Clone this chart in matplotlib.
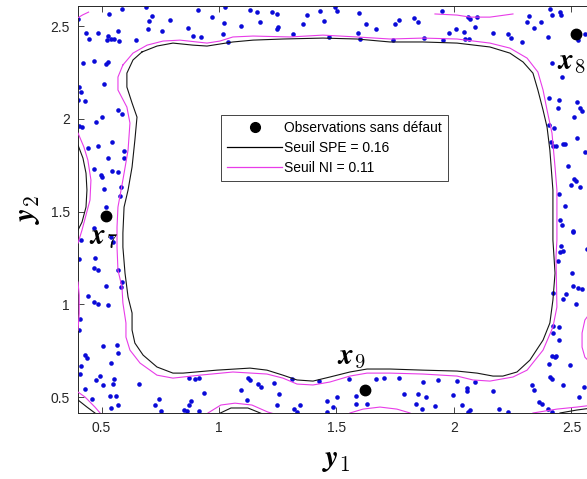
import matplotlib
matplotlib.use("Agg")
import matplotlib.pyplot as plt
from matplotlib.lines import Line2D
import numpy as np

plt.rcParams["font.family"] = ["Liberation Sans", "DejaVu Sans"]
plt.rcParams["mathtext.fontset"] = "cm"

# fault-free observations (y1, y2)
obs_top = [
    (0.400, 2.538), (0.532, 2.565), (0.587, 2.591), (0.691, 2.604), (0.911, 2.588), (1.024, 2.600),
    (1.133, 2.586), (1.162, 2.577), (1.224, 2.577), (1.248, 2.563), (1.373, 2.561), (1.428, 2.582),
    (0.715, 2.556), (0.702, 2.529), (0.790, 2.532), (0.969, 2.548), (1.020, 2.514), (1.095, 2.502),
    (1.173, 2.520), (1.252, 2.496), (1.248, 2.482), (1.359, 2.511), (1.447, 2.525), (0.434, 2.464),
    (0.447, 2.428), (0.487, 2.464), (0.528, 2.446), (0.542, 2.430), (0.552, 2.432), (0.525, 2.423),
    (0.573, 2.419), (0.572, 2.475), (0.648, 2.423), (0.698, 2.484), (0.757, 2.473), (0.870, 2.489),
    (0.891, 2.446), (0.923, 2.439), (1.018, 2.455), (1.313, 2.459), (1.038, 2.414), (1.467, 2.439),
    (1.503, 2.581), (1.492, 2.604), (1.597, 2.568), (1.624, 2.511), (1.668, 2.482), (1.749, 2.511),
    (1.767, 2.532), (1.831, 2.541), (1.845, 2.520), (1.947, 2.582), (2.059, 2.547), (2.068, 2.536),
    (2.096, 2.547), (2.090, 2.496), (2.008, 2.484), (1.980, 2.464), (2.041, 2.466), (2.048, 2.428),
    (2.065, 2.428), (2.167, 2.460), (2.229, 2.455), (2.242, 2.437), (2.288, 2.412), (2.319, 2.556),
    (2.309, 2.520), (2.340, 2.489), (2.370, 2.521), (2.408, 2.590), (2.419, 2.559), (2.451, 2.577),
    (2.454, 2.559), (2.402, 2.439), (2.527, 2.424), (2.557, 2.455), (1.590, 2.464), (1.600, 2.430),
    (1.739, 2.424), (1.873, 2.433), (1.954, 2.424),
]
obs_right = [
    (2.417, 2.302), (2.460, 2.223), (2.406, 2.110), (2.448, 2.101), (2.441, 2.056), (2.522, 2.092),
    (2.536, 2.056), (2.543, 2.043), (2.512, 2.011), (2.406, 1.966), (2.427, 1.948), (2.522, 1.899),
    (2.411, 1.876), (2.420, 1.853), (2.434, 1.853), (2.463, 1.862), (2.473, 1.863), (2.559, 1.822),
    (2.487, 1.745), (2.512, 1.678), (2.518, 1.666), (2.498, 1.642), (2.536, 1.633), (2.448, 1.594),
    (2.473, 1.531), (2.451, 1.454), (2.458, 1.427), (2.508, 1.396), (2.505, 1.387), (2.565, 1.296),
    (2.454, 1.315), (2.463, 1.288), (2.451, 1.281), (2.441, 1.233), (2.501, 1.170), (2.505, 1.098),
    (2.526, 1.089), (2.543, 1.085), (2.477, 1.058), (2.465, 1.031), (2.519, 1.004), (2.423, 1.062),
    (2.423, 0.882), (2.448, 0.879), (2.420, 0.843), (2.448, 0.807), (2.416, 0.721), (2.434, 0.721),
]
obs_bottom = [
    (0.414, 0.667), (0.542, 0.686), (0.410, 0.622), (0.478, 0.591), (0.494, 0.615), (0.508, 0.564),
    (0.552, 0.597), (0.549, 0.568), (0.431, 0.546), (0.460, 0.489), (0.538, 0.507), (0.562, 0.507),
    (0.542, 0.442), (0.569, 0.456), (0.661, 0.568), (0.743, 0.489), (0.726, 0.456), (0.753, 0.426),
    (0.851, 0.430), (0.865, 0.426), (0.872, 0.456), (0.879, 0.480), (0.913, 0.424), (0.936, 0.523),
    (0.872, 0.600), (0.896, 0.597), (0.913, 0.600), (1.092, 0.536), (1.125, 0.604), (1.133, 0.591),
    (1.165, 0.568), (1.179, 0.553), (1.121, 0.482), (1.233, 0.577), (1.254, 0.519), (1.247, 0.456),
    (1.312, 0.595), (1.424, 0.584), (1.318, 0.433), (1.333, 0.420), (1.346, 0.456), (1.461, 0.478),
    (1.461, 0.420), (1.553, 0.595), (1.666, 0.597), (1.703, 0.604), (1.766, 0.600), (1.869, 0.579),
    (1.933, 0.593), (2.012, 0.586), (2.090, 0.582), (2.056, 0.550), (2.054, 0.532), (2.167, 0.532),
    (2.334, 0.564), (2.340, 0.539), (1.503, 0.501), (1.583, 0.507), (1.583, 0.465), (1.631, 0.465),
    (1.787, 0.514), (1.848, 0.516), (1.879, 0.501), (1.838, 0.465), (1.862, 0.438), (1.920, 0.453),
    (1.997, 0.510), (2.032, 0.456), (2.066, 0.430), (2.058, 0.421), (2.191, 0.438), (2.229, 0.420),
    (2.363, 0.474), (2.374, 0.465), (2.402, 0.433), (2.419, 0.420), (2.530, 0.501), (2.553, 0.552),
    (2.405, 0.676), (2.408, 0.607), (2.419, 0.597), (2.493, 0.672), (2.465, 0.564), (2.431, 0.717),
    (1.486, 0.447),
]
obs_left = [
    (0.422, 2.302), (0.469, 2.313), (0.519, 2.295), (0.526, 2.307), (0.405, 2.172), (0.413, 2.145),
    (0.401, 2.101), (0.430, 2.095), (0.512, 2.190), (0.571, 2.050), (0.586, 2.025), (0.500, 2.011),
    (0.476, 1.984), (0.405, 1.960), (0.415, 1.957), (0.441, 1.844), (0.483, 1.853), (0.543, 1.876),
    (0.529, 1.791), (0.597, 1.827), (0.597, 1.786), (0.498, 1.696), (0.500, 1.687), (0.469, 1.727),
    (0.543, 1.720), (0.569, 1.714), (0.512, 1.624), (0.583, 1.633), (0.517, 1.526), (0.578, 1.583),
    (0.469, 1.409), (0.540, 1.364), (0.550, 1.337), (0.413, 1.349), (0.405, 1.242), (0.472, 1.247),
    (0.469, 1.193), (0.486, 1.184), (0.571, 1.184), (0.444, 1.044), (0.468, 1.013), (0.483, 0.999),
    (0.526, 0.995), (0.518, 1.098), (0.586, 1.121), (0.583, 1.091), (0.408, 0.918), (0.405, 0.861),
    (0.505, 0.774), (0.564, 0.780), (0.569, 0.735), (0.430, 0.726), (0.437, 0.713),
]

# faulty observations x7, x8, x9
fault_names = ["7", "8", "9"]
fault_y1 = [0.521, 2.519, 1.622]
fault_y2 = [1.474, 2.458, 0.538]
label_y1 = [0.508, 2.500, 1.565]
label_y2 = [1.362, 2.306, 0.715]

# SPE threshold contour (0.16)
spe_y1 = [0.672, 0.736, 0.804, 0.889, 0.949, 1.004, 1.059, 1.145, 1.272, 1.442, 1.587, 1.728, 1.868,
          2.013, 2.153, 2.238, 2.294, 2.336, 2.357, 2.379, 2.396, 2.408, 2.421, 2.421, 2.430, 2.421,
          2.408, 2.379, 2.323, 2.268, 2.208, 2.166, 2.098, 2.013, 1.868, 1.728, 1.630, 1.557, 1.472,
          1.400, 1.332, 1.272, 1.204, 1.132, 0.991, 0.847, 0.804, 0.736, 0.677, 0.642, 0.630, 0.630,
          0.613, 0.600, 0.591, 0.591, 0.596, 0.613, 0.630, 0.642, 0.651, 0.630, 0.608, 0.608, 0.634,
          0.672]
spe_y2 = [2.360, 2.392, 2.408, 2.397, 2.392, 2.403, 2.414, 2.424, 2.430, 2.435, 2.430, 2.414, 2.414,
          2.408, 2.387, 2.354, 2.306, 2.246, 2.155, 2.047, 1.955, 1.831, 1.616, 1.346, 1.168, 1.023,
          0.899, 0.807, 0.699, 0.635, 0.613, 0.613, 0.629, 0.640, 0.645, 0.651, 0.651, 0.635, 0.608,
          0.586, 0.592, 0.618, 0.645, 0.656, 0.645, 0.629, 0.629, 0.662, 0.726, 0.791, 0.861, 0.953,
          1.039, 1.168, 1.308, 1.384, 1.524, 1.616, 1.740, 1.885, 2.009, 2.085, 2.171, 2.246, 2.317,
          2.360]
spe_parts = [
    ([0.400, 0.421, 0.434, 0.438, 0.434, 0.417, 0.400], [1.858, 1.788, 1.707, 1.616, 1.524, 1.443, 1.400]),
    ([0.400, 0.438, 0.472], [0.484, 0.446, 0.414]),
    ([0.996, 1.051, 1.123, 1.187], [0.408, 0.441, 0.441, 0.408]),
    ([2.451, 2.523, 2.600], [0.414, 0.430, 0.443]),
]

# NI threshold contour (0.11)
ni_y1 = [0.591, 0.634, 0.694, 0.762, 0.834, 0.906, 0.949, 1.004, 1.059, 1.145, 1.302, 1.442, 1.587,
         1.728, 1.868, 2.013, 2.153, 2.238, 2.311, 2.357, 2.379, 2.396, 2.417, 2.430, 2.438, 2.438,
         2.434, 2.438, 2.421, 2.379, 2.311, 2.251, 2.153, 2.081, 2.013, 1.868, 1.728, 1.630, 1.557,
         1.472, 1.400, 1.332, 1.272, 1.204, 1.059, 0.919, 0.804, 0.736, 0.664, 0.621, 0.604, 0.604,
         0.591, 0.587, 0.570, 0.566, 0.566, 0.570, 0.591, 0.613, 0.621, 0.608, 0.570, 0.570, 0.591]
ni_y2 = [2.290, 2.354, 2.397, 2.419, 2.424, 2.414, 2.408, 2.419, 2.441, 2.446, 2.441, 2.451, 2.441,
         2.430, 2.435, 2.430, 2.408, 2.381, 2.327, 2.252, 2.155, 2.047, 1.923, 1.740, 1.616, 1.346,
         1.255, 0.985, 0.877, 0.753, 0.645, 0.608, 0.586, 0.592, 0.613, 0.624, 0.629, 0.629, 0.613,
         0.581, 0.565, 0.570, 0.602, 0.624, 0.635, 0.618, 0.602, 0.618, 0.683, 0.753, 0.823, 0.899,
         1.007, 1.093, 1.184, 1.308, 1.416, 1.524, 1.670, 1.831, 1.977, 2.063, 2.155, 2.225, 2.290]
ni_parts = [
    ([0.400, 0.420, 0.445], [2.545, 2.560, 2.575]),
    ([1.919, 2.013, 2.068, 2.153, 2.251], [2.565, 2.559, 2.548, 2.548, 2.565]),
    ([0.400, 0.425, 0.442, 0.455, 0.451, 0.434, 0.417, 0.400], [1.923, 1.848, 1.777, 1.670, 1.562, 1.481, 1.400, 1.330]),
    ([0.400, 0.405, 0.405, 0.400], [1.120, 1.050, 0.950, 0.860]),
    ([0.400, 0.430, 0.472, 0.494], [0.527, 0.500, 0.446, 0.414]),
    ([0.953, 1.008, 1.068, 1.140, 1.208, 1.238], [0.414, 0.457, 0.467, 0.457, 0.419, 0.408]),
    ([1.557, 1.613, 1.685, 1.757, 1.813], [0.414, 0.435, 0.446, 0.435, 0.414]),
    ([2.336, 2.438, 2.523, 2.600], [0.414, 0.435, 0.446, 0.458]),
    ([2.600, 2.557, 2.545, 2.545, 2.557, 2.600], [0.990, 0.915, 0.845, 0.769, 0.715, 0.660]),
]

blue = "#0a0ad8"
magenta = "#e83ce8"

fig = plt.figure(figsize=(5.87, 4.79), dpi=100)
ax = fig.add_axes([0.1329, 0.1378, 0.8807, 0.8497])

obs = np.array(obs_top + obs_right + obs_bottom + obs_left)
ax.plot(obs[:, 0], obs[:, 1], "o", color=blue, ms=3.3, mew=0, zorder=2)

ax.plot(spe_y1, spe_y2, color="#151515", lw=0.8, zorder=3)
for px, py in spe_parts:
    ax.plot(px, py, color="#151515", lw=0.8, zorder=3)
ax.plot(ni_y1, ni_y2, color=magenta, lw=0.8, zorder=3)
for px, py in ni_parts:
    ax.plot(px, py, color=magenta, lw=0.8, zorder=3)

ax.plot(fault_y1, fault_y2, "o", color="black", ms=7.5, zorder=4)
for name, lx, ly in zip(fault_names, label_y1, label_y2):
    ax.text(lx, ly, r"$\boldsymbol{x}_{%s}$" % name, fontsize=21, ha="center", va="center", zorder=5)

ax.set_xlim(0.4, 2.6)
ax.set_ylim(0.414, 2.608)
ax.set_xticks([0.5, 1, 1.5, 2, 2.5])
ax.set_xticklabels(["0.5", "1", "1.5", "2", "2.5"])
ax.set_yticks([0.5, 1, 1.5, 2, 2.5])
ax.set_yticklabels(["0.5", "1", "1.5", "2", "2.5"])
ax.tick_params(direction="in", length=4, width=0.6, labelsize=10, colors="#262626",
               top=True, right=True, pad=6)
for sp in ax.spines.values():
    sp.set_color("#262626")
    sp.set_linewidth(0.7)

ax.set_xlabel(r"$\boldsymbol{y}_1$", fontsize=22, labelpad=6)
ax.set_ylabel(r"$\boldsymbol{y}_2$", fontsize=22, labelpad=6)

handles = [
    Line2D([], [], ls="none", marker="o", color="black", ms=7),
    Line2D([], [], color="black", lw=0.9),
    Line2D([], [], color=magenta, lw=0.9),
]
labels = ["Observations sans défaut", "Seuil SPE = 0.16", "Seuil NI = 0.11"]
leg = ax.legend(handles, labels, loc="upper left", bbox_to_anchor=(0.277, 0.732), fontsize=10,
                frameon=True, fancybox=False, edgecolor="#262626", framealpha=1,
                handlelength=3.9, handletextpad=0.15, borderpad=0.45, labelspacing=0.42,
                borderaxespad=0)
leg.get_frame().set_linewidth(0.6)

fig.savefig("out.png", dpi=100)
